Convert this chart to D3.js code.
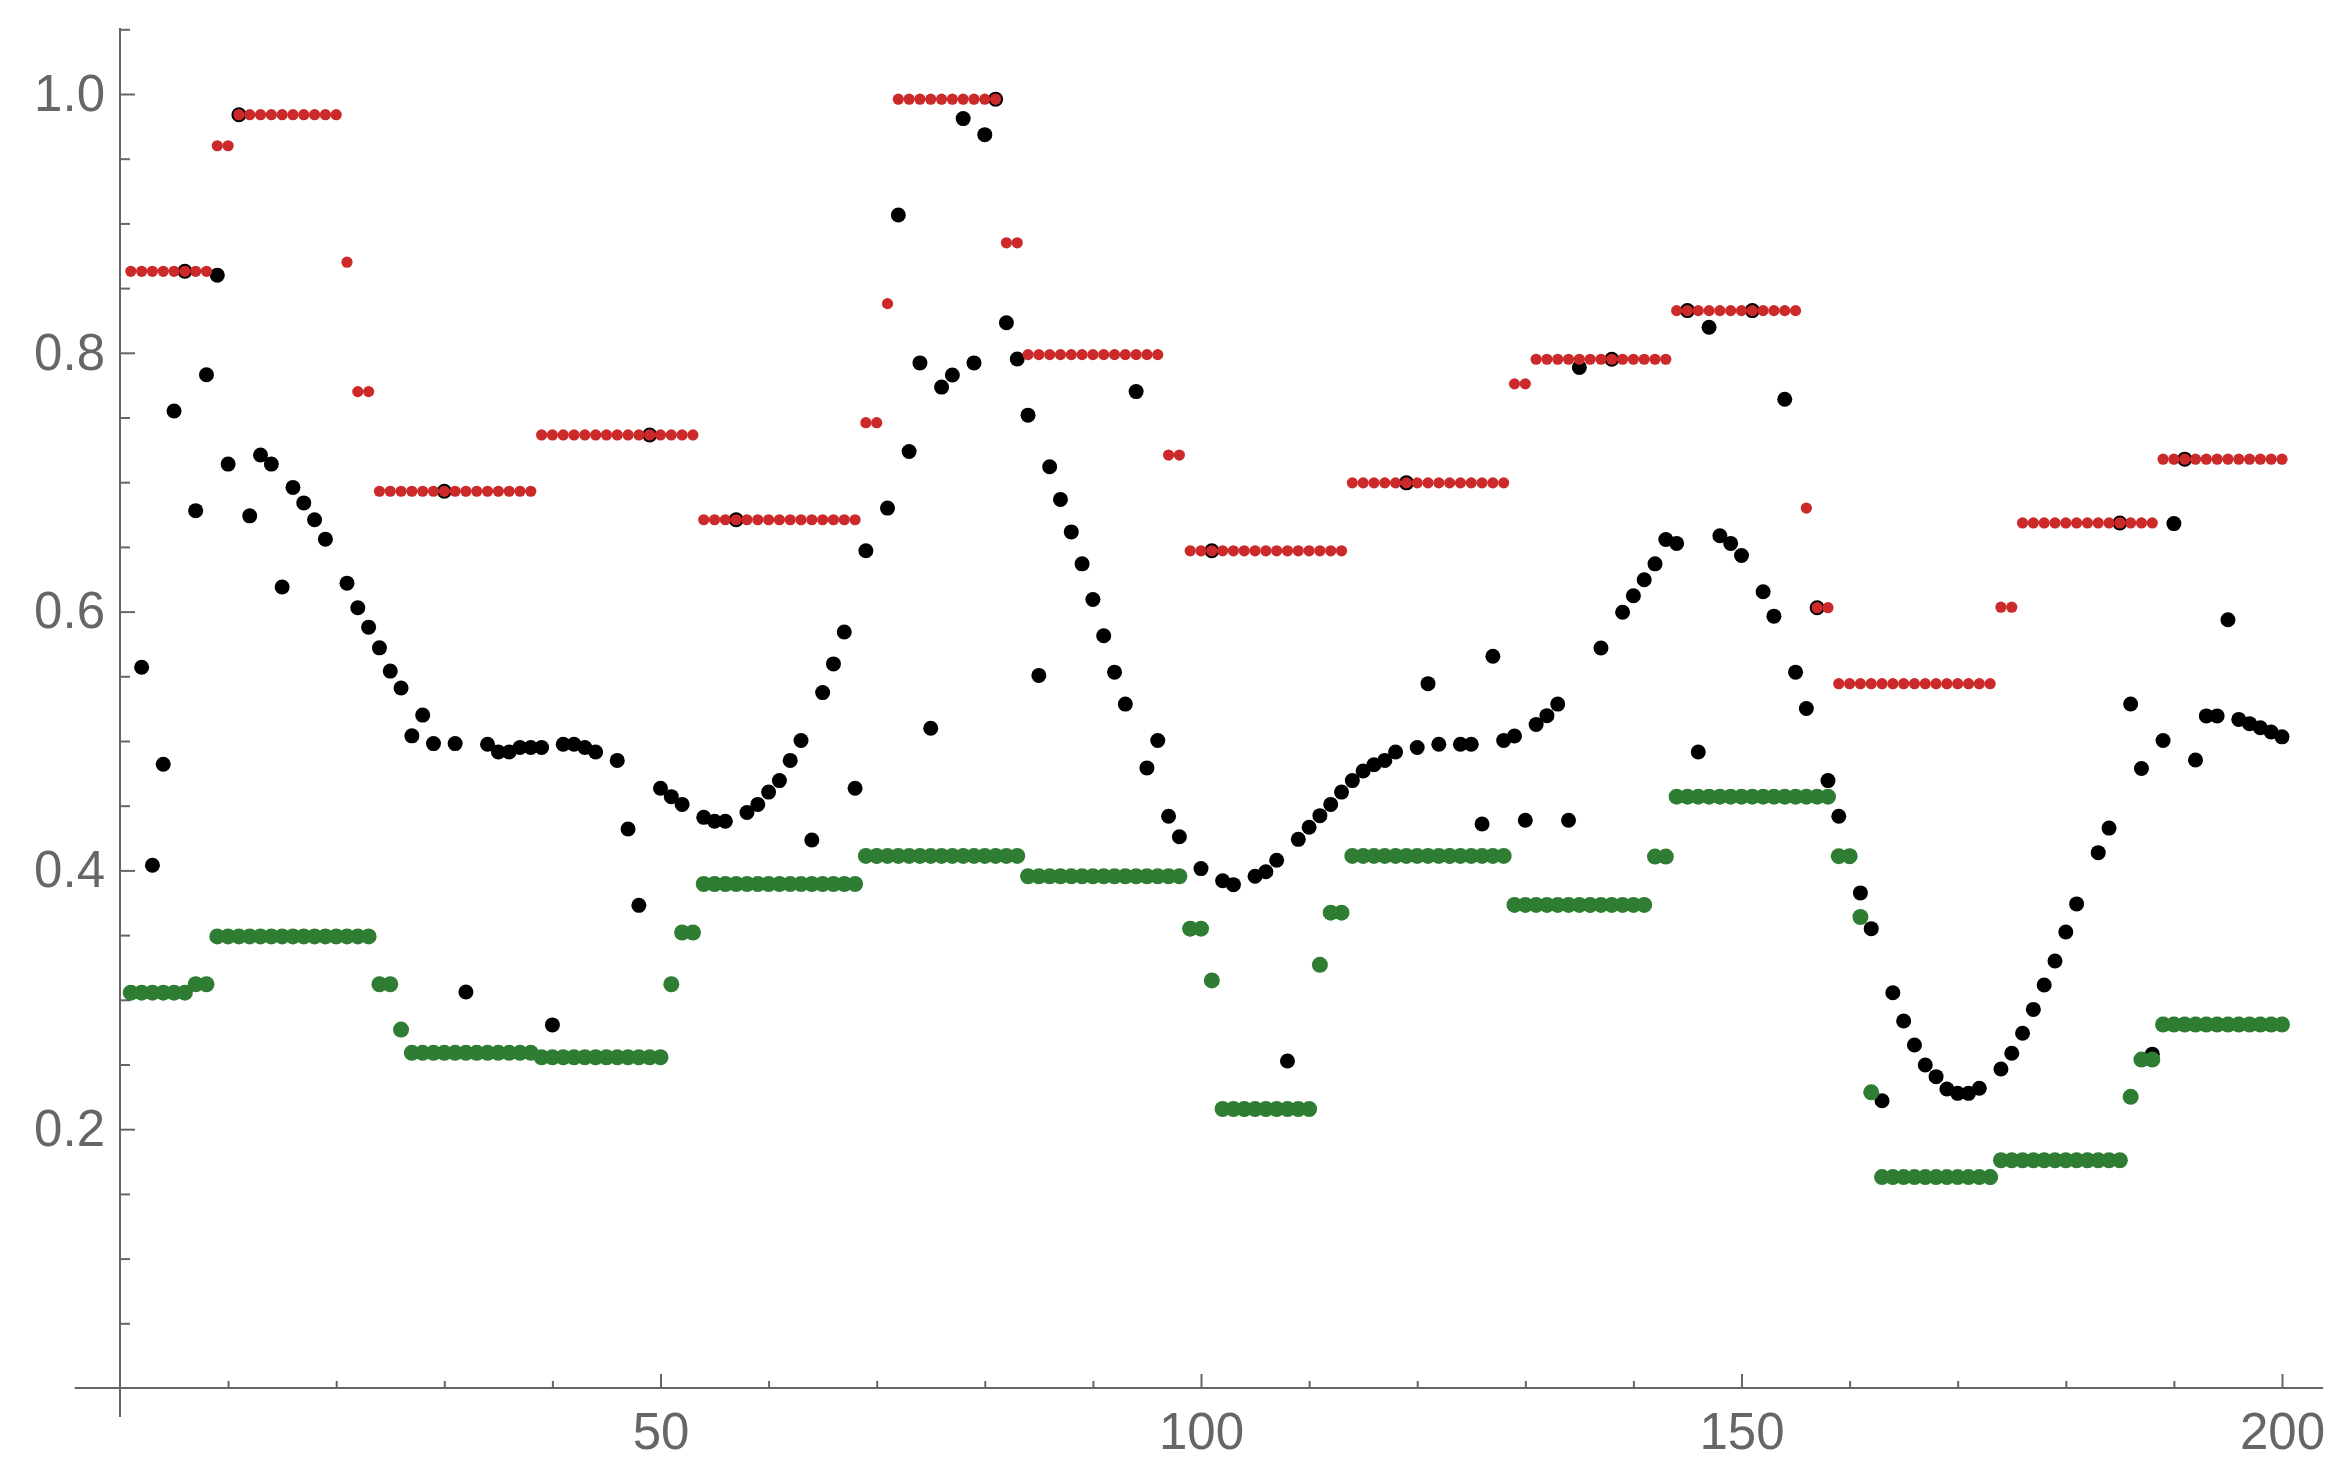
<!DOCTYPE html>
<html>
<head>
<meta charset="utf-8">
<script src="https://cdn.jsdelivr.net/npm/d3@7"></script>
<style>
  body { margin: 0; background: #fff; }
  .axis text { font-family: "Liberation Sans", Arial, sans-serif; font-size: 51px; fill: #666; }
  .axis line { stroke: #666; stroke-width: 2; }
</style>
</head>
<body>
<div id="plot"></div>
<script>
// black points (value at each step 1..200)
var values = [
  0.3055,0.557,0.404,0.482,0.755,0.863,0.678,0.783,0.860,0.714,
  0.984,0.674,0.721,0.714,0.619,0.696,0.684,0.671,0.656,0.349,
  0.622,0.603,0.588,0.572,0.554,0.541,0.504,0.520,0.498,0.693,
  0.498,0.306,0.259,0.4975,0.4915,0.4915,0.495,0.495,0.495,0.2806,
  0.4975,0.4975,0.495,0.4915,0.2556,0.485,0.432,0.373,0.7365,0.4635,
  0.457,0.451,0.352,0.441,0.438,0.438,0.671,0.4447,0.451,0.4605,
  0.4694,0.485,0.5004,0.4235,0.5374,0.5596,0.5842,0.4635,0.647,0.4112,
  0.680,0.9065,0.7237,0.7922,0.5098,0.7735,0.7828,0.981,0.7922,0.9686,
  0.996,0.8232,0.7952,0.7518,0.5507,0.7119,0.6867,0.6616,0.6369,0.6093,
  0.5813,0.5532,0.5285,0.770,0.4792,0.5004,0.4418,0.426,0.355,0.4014,
  0.647,0.392,0.389,0.2156,0.3955,0.399,0.4078,0.2527,0.424,0.4334,
  0.4423,0.451,0.4605,0.4694,0.4768,0.4817,0.485,0.4915,0.6995,0.495,
  0.5443,0.4975,0.4112,0.4975,0.4975,0.4359,0.5655,0.5004,0.5039,0.4388,
  0.5127,0.5196,0.5285,0.4388,0.7887,0.3733,0.5719,0.795,0.5995,0.6123,
  0.6246,0.6369,0.6557,0.6527,0.8326,0.4915,0.8198,0.6586,0.6527,0.6433,
  0.8326,0.6153,0.5965,0.7641,0.5532,0.5251,0.603,0.4694,0.4418,0.411,
  0.3826,0.355,0.222,0.3055,0.2836,0.2651,0.2496,0.2406,0.2311,0.2277,
  0.2277,0.2316,0.163,0.2465,0.2587,0.2741,0.2926,0.3114,0.33,0.3524,
  0.3741,0.176,0.4137,0.4327,0.6685,0.5286,0.4788,0.258,0.5004,0.668,
  0.7178,0.4853,0.5194,0.5194,0.5937,0.5167,0.5134,0.5102,0.5069,0.5032
];

// red points (upper level)
var upper = [
  0.863,0.863,0.863,0.863,0.863,0.863,0.863,0.863,0.960,0.960,
  0.984,0.984,0.984,0.984,0.984,0.984,0.984,0.984,0.984,0.984,
  0.870,0.770,0.770,0.693,0.693,0.693,0.693,0.693,0.693,0.693,
  0.693,0.693,0.693,0.693,0.693,0.693,0.693,0.693,0.7365,0.7365,
  0.7365,0.7365,0.7365,0.7365,0.7365,0.7365,0.7365,0.7365,0.7365,0.7365,
  0.7365,0.7365,0.7365,0.671,0.671,0.671,0.671,0.671,0.671,0.671,
  0.671,0.671,0.671,0.671,0.671,0.671,0.671,0.671,0.746,0.746,
  0.838,0.996,0.996,0.996,0.996,0.996,0.996,0.996,0.996,0.996,
  0.996,0.885,0.885,0.7986,0.7986,0.7986,0.7986,0.7986,0.7986,0.7986,
  0.7986,0.7986,0.7986,0.7986,0.7986,0.7986,0.721,0.721,0.647,0.647,
  0.647,0.647,0.647,0.647,0.647,0.647,0.647,0.647,0.647,0.647,
  0.647,0.647,0.647,0.6995,0.6995,0.6995,0.6995,0.6995,0.6995,0.6995,
  0.6995,0.6995,0.6995,0.6995,0.6995,0.6995,0.6995,0.6995,0.776,0.776,
  0.795,0.795,0.795,0.795,0.795,0.795,0.795,0.795,0.795,0.795,
  0.795,0.795,0.795,0.8326,0.8326,0.8326,0.8326,0.8326,0.8326,0.8326,
  0.8326,0.8326,0.8326,0.8326,0.8326,0.680,0.603,0.603,0.5443,0.5443,
  0.5443,0.5443,0.5443,0.5443,0.5443,0.5443,0.5443,0.5443,0.5443,0.5443,
  0.5443,0.5443,0.5443,0.6034,0.6034,0.6685,0.6685,0.6685,0.6685,0.6685,
  0.6685,0.6685,0.6685,0.6685,0.6685,0.6685,0.6685,0.6685,0.7178,0.7178,
  0.7178,0.7178,0.7178,0.7178,0.7178,0.7178,0.7178,0.7178,0.7178,0.7178
];

// green points (lower level)
var lower = [
  0.3055,0.3055,0.3055,0.3055,0.3055,0.3055,0.312,0.312,0.349,0.349,
  0.349,0.349,0.349,0.349,0.349,0.349,0.349,0.349,0.349,0.349,
  0.349,0.349,0.349,0.312,0.312,0.277,0.259,0.259,0.259,0.259,
  0.259,0.259,0.259,0.259,0.259,0.259,0.259,0.259,0.2556,0.2556,
  0.2556,0.2556,0.2556,0.2556,0.2556,0.2556,0.2556,0.2556,0.2556,0.2556,
  0.312,0.352,0.352,0.3895,0.3895,0.3895,0.3895,0.3895,0.3895,0.3895,
  0.3895,0.3895,0.3895,0.3895,0.3895,0.3895,0.3895,0.3895,0.4112,0.4112,
  0.4112,0.4112,0.4112,0.4112,0.4112,0.4112,0.4112,0.4112,0.4112,0.4112,
  0.4112,0.4112,0.4112,0.3955,0.3955,0.3955,0.3955,0.3955,0.3955,0.3955,
  0.3955,0.3955,0.3955,0.3955,0.3955,0.3955,0.3955,0.3955,0.355,0.355,
  0.315,0.2156,0.2156,0.2156,0.2156,0.2156,0.2156,0.2156,0.2156,0.2156,
  0.327,0.3673,0.3673,0.4112,0.4112,0.4112,0.4112,0.4112,0.4112,0.4112,
  0.4112,0.4112,0.4112,0.4112,0.4112,0.4112,0.4112,0.4112,0.3733,0.3733,
  0.3733,0.3733,0.3733,0.3733,0.3733,0.3733,0.3733,0.3733,0.3733,0.3733,
  0.3733,0.4107,0.4107,0.457,0.457,0.457,0.457,0.457,0.457,0.457,
  0.457,0.457,0.457,0.457,0.457,0.457,0.457,0.457,0.411,0.411,
  0.364,0.2285,0.163,0.163,0.163,0.163,0.163,0.163,0.163,0.163,
  0.163,0.163,0.163,0.176,0.176,0.176,0.176,0.176,0.176,0.176,
  0.176,0.176,0.176,0.176,0.176,0.225,0.2538,0.2538,0.2809,0.2809,
  0.2809,0.2809,0.2809,0.2809,0.2809,0.2809,0.2809,0.2809,0.2809,0.2809
];

var xMajor = [50, 100, 150, 200];
var xMinor = [10, 20, 30, 40, 60, 70, 80, 90, 110, 120, 130, 140, 160, 170, 180, 190];
var yMajor = [0.2, 0.4, 0.6, 0.8, 1.0];
var yMinor = [0.05, 0.1, 0.15, 0.25, 0.3, 0.35, 0.45, 0.5, 0.55, 0.65, 0.7, 0.75, 0.85, 0.9, 0.95, 1.05];

var width = 2352, height = 1475;

var svg = d3.select("#plot")
  .append("svg")
    .attr("width", width)
    .attr("height", height);

var x = d3.scaleLinear()
    .domain([0, 200])
    .range([120, 2282]);

var y = d3.scaleLinear()
    .domain([0, 1])
    .range([1388, 94]);

// axis lines, Mathematica style crossing at the origin
svg.append("line")
    .attr("x1", x(-4.2)).attr("x2", x(203.8))
    .attr("y1", y(0)).attr("y2", y(0))
    .attr("stroke", "#666").attr("stroke-width", 2);
svg.append("line")
    .attr("x1", x(0)).attr("x2", x(0))
    .attr("y1", y(1.051)).attr("y2", y(-0.0225))
    .attr("stroke", "#666").attr("stroke-width", 2);

// x ticks point up into the plot
svg.append("g")
    .attr("class", "axis")
    .attr("transform", "translate(0," + y(0) + ")")
    .call(d3.axisBottom(x).tickValues(xMajor).tickSizeInner(-14).tickSizeOuter(0).tickPadding(25).tickFormat(d3.format("d")))
    .call(function(g){ g.select(".domain").remove(); });
svg.append("g")
    .attr("class", "axis")
    .attr("transform", "translate(0," + y(0) + ")")
    .call(d3.axisBottom(x).tickValues(xMinor).tickSizeInner(-7).tickSizeOuter(0).tickFormat(""))
    .call(function(g){ g.select(".domain").remove(); });

// y ticks point right
svg.append("g")
    .attr("class", "axis")
    .attr("transform", "translate(" + x(0) + ",0)")
    .call(d3.axisLeft(y).tickValues(yMajor).tickSizeInner(-15).tickSizeOuter(0).tickPadding(15).tickFormat(d3.format(".1f")))
    .call(function(g){ g.select(".domain").remove(); });
svg.append("g")
    .attr("class", "axis")
    .attr("transform", "translate(" + x(0) + ",0)")
    .call(d3.axisLeft(y).tickValues(yMinor).tickSizeInner(-10).tickSizeOuter(0).tickFormat(""))
    .call(function(g){ g.select(".domain").remove(); });

// black first, then red and green on top
svg.append("g")
  .selectAll("circle")
  .data(values)
  .enter()
  .append("circle")
    .attr("cx", function(d, i){ return x(i + 1); })
    .attr("cy", function(d){ return y(d); })
    .attr("r", 7.5)
    .style("fill", "#000");

svg.append("g")
  .selectAll("circle")
  .data(upper)
  .enter()
  .append("circle")
    .attr("cx", function(d, i){ return x(i + 1); })
    .attr("cy", function(d){ return y(d); })
    .attr("r", 5.6)
    .style("fill", "#cc2a2a");

svg.append("g")
  .selectAll("circle")
  .data(lower)
  .enter()
  .append("circle")
    .attr("cx", function(d, i){ return x(i + 1); })
    .attr("cy", function(d){ return y(d); })
    .attr("r", 8)
    .style("fill", "#2e7d32");
</script>
</body>
</html>
